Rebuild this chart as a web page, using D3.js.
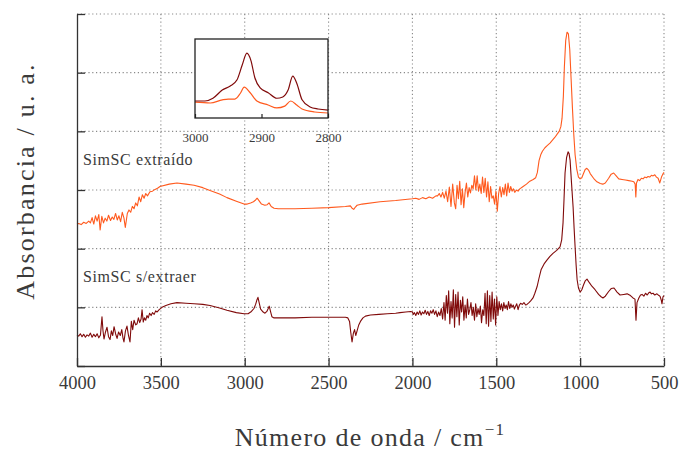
<!DOCTYPE html>
<html>
<head>
<meta charset="utf-8">
<script src="https://cdn.jsdelivr.net/npm/d3@7"></script>
<style>
  body { margin: 0; background: #fff; }
  svg { display: block; }
  text { font-family: 'Liberation Serif', 'Times New Roman', serif; fill: #3a3a3a; }
</style>
</head>
<body>
<div id="chart"></div>
<script>
// tick values
const xTicks = [4000, 3500, 3000, 2500, 2000, 1500, 1000, 500]
const yTicks = [0, 1, 2, 3, 4, 5, 6]
const insetTicks = [3000, 2900, 2800]
const seriesNames = ['SimSC extraído', 'SimSC s/extraer']

// spectra: [wavenumber, absorbance (offset, a.u.)]
const extraido = [
  [4000, 2.42], [3990, 2.43], [3975, 2.41], [3960, 2.45], [3945, 2.43], [3930, 2.47],
  [3920, 2.44], [3910, 2.53], [3900, 2.42], [3890, 2.56], [3880, 2.47], [3870, 2.58],
  [3862, 2.32], [3852, 2.55], [3842, 2.44], [3832, 2.52], [3822, 2.47], [3812, 2.57],
  [3800, 2.48], [3790, 2.54], [3780, 2.50], [3770, 2.60], [3760, 2.49], [3750, 2.56],
  [3740, 2.46], [3730, 2.62], [3720, 2.52], [3712, 2.36], [3700, 2.60], [3690, 2.66],
  [3680, 2.62], [3670, 2.72], [3660, 2.68], [3650, 2.78], [3640, 2.73], [3630, 2.88],
  [3620, 2.80], [3610, 2.92], [3600, 2.86], [3590, 2.94], [3580, 2.90], [3565, 2.97],
  [3550, 2.98], [3535, 3.01], [3520, 3.03], [3505, 3.06], [3450, 3.10], [3404, 3.12],
  [3350, 3.10], [3302, 3.08], [3250, 3.04], [3207, 2.99], [3150, 2.93], [3106, 2.87],
  [3050, 2.81], [3004, 2.76], [2985, 2.76], [2965, 2.78], [2948, 2.80], [2935, 2.83],
  [2926, 2.86], [2915, 2.82], [2900, 2.76], [2880, 2.74], [2866, 2.75], [2855, 2.78],
  [2842, 2.72], [2825, 2.69], [2800, 2.68], [2700, 2.68], [2600, 2.69], [2500, 2.70],
  [2400, 2.72], [2370, 2.73], [2360, 2.69], [2350, 2.67], [2340, 2.71], [2330, 2.74],
  [2300, 2.76], [2193, 2.80], [2100, 2.82], [2000, 2.85], [1980, 2.86], [1960, 2.84],
  [1940, 2.87], [1920, 2.85], [1900, 2.88], [1880, 2.86], [1860, 2.90], [1850, 2.90],
  [1840, 2.94], [1830, 2.88], [1820, 2.96], [1810, 2.86], [1800, 2.98], [1790, 2.80],
  [1780, 3.05], [1770, 2.72], [1760, 3.10], [1750, 2.78], [1742, 2.68], [1734, 3.08],
  [1726, 2.85], [1718, 3.15], [1710, 2.75], [1702, 3.02], [1694, 2.70], [1686, 2.96],
  [1678, 3.12], [1670, 2.88], [1662, 3.04], [1654, 2.95], [1646, 3.08], [1638, 3.02],
  [1630, 3.24], [1622, 3.00], [1614, 3.24], [1606, 2.98], [1598, 3.10], [1590, 2.94],
  [1582, 3.22], [1574, 2.96], [1566, 3.20], [1558, 2.88], [1550, 3.14], [1542, 2.80],
  [1534, 3.06], [1526, 2.86], [1518, 2.90], [1510, 2.76], [1502, 2.98], [1494, 2.64],
  [1486, 2.94], [1478, 3.06], [1470, 2.88], [1462, 3.04], [1454, 2.92], [1446, 3.10],
  [1438, 2.90], [1430, 3.12], [1422, 2.96], [1414, 3.06], [1406, 2.98], [1398, 3.02],
  [1390, 2.96], [1380, 3.00], [1370, 2.98], [1360, 3.02], [1340, 3.06], [1320, 3.10],
  [1300, 3.15], [1280, 3.18], [1265, 3.21], [1255, 3.30], [1245, 3.50], [1235, 3.60],
  [1225, 3.66], [1210, 3.72], [1195, 3.76], [1180, 3.80], [1165, 3.85], [1150, 3.90],
  [1135, 3.96], [1125, 4.00], [1115, 4.08], [1108, 4.22], [1100, 4.60], [1094, 5.10],
  [1086, 5.55], [1078, 5.69], [1070, 5.66], [1062, 5.40], [1054, 4.90], [1046, 4.40],
  [1038, 3.95], [1030, 3.60], [1020, 3.35], [1010, 3.22], [1000, 3.19], [990, 3.21],
  [980, 3.28], [970, 3.35], [960, 3.37], [950, 3.34], [940, 3.28], [920, 3.20],
  [900, 3.14], [880, 3.11], [865, 3.10], [850, 3.12], [830, 3.20], [815, 3.27],
  [800, 3.29], [785, 3.24], [770, 3.19], [750, 3.18], [730, 3.17], [710, 3.16],
  [690, 3.15], [680, 3.14], [672, 3.10], [668, 2.88], [664, 3.12], [655, 3.18],
  [645, 3.16], [635, 3.20], [625, 3.19], [615, 3.22], [605, 3.21], [595, 3.23],
  [585, 3.22], [575, 3.25], [565, 3.24], [555, 3.26], [545, 3.22], [535, 3.20],
  [525, 3.12], [515, 3.22], [505, 3.28], [500, 3.30]
]

const sinExtraer = [
  [4000, 0.53], [3990, 0.51], [3980, 0.55], [3970, 0.50], [3960, 0.54], [3950, 0.49],
  [3940, 0.53], [3930, 0.51], [3920, 0.56], [3910, 0.49], [3900, 0.54], [3890, 0.50],
  [3880, 0.55], [3870, 0.48], [3860, 0.53], [3851, 0.84], [3845, 0.60], [3839, 0.46],
  [3830, 0.58], [3821, 0.66], [3812, 0.50], [3803, 0.45], [3795, 0.60], [3787, 0.52],
  [3779, 0.67], [3770, 0.55], [3761, 0.47], [3752, 0.58], [3742, 0.52], [3733, 0.62],
  [3726, 0.48], [3720, 0.41], [3711, 0.60], [3702, 0.68], [3693, 0.52], [3684, 0.41],
  [3676, 0.76], [3668, 0.62], [3660, 0.78], [3650, 0.70], [3642, 0.72], [3634, 0.82],
  [3626, 0.74], [3618, 0.80], [3612, 0.96], [3605, 0.75], [3598, 0.82], [3590, 0.78],
  [3583, 0.86], [3575, 0.82], [3567, 0.90], [3558, 0.86], [3550, 0.91], [3540, 0.88],
  [3531, 0.94], [3523, 0.92], [3510, 0.96], [3493, 1.00], [3470, 1.03], [3440, 1.06],
  [3404, 1.08], [3350, 1.07], [3302, 1.06], [3250, 1.05], [3207, 1.03], [3150, 0.99],
  [3106, 0.95], [3050, 0.91], [3004, 0.89], [2980, 0.89], [2960, 0.93], [2945, 0.98],
  [2935, 1.05], [2928, 1.12], [2921, 1.17], [2914, 1.08], [2905, 0.97], [2890, 0.92],
  [2879, 0.90], [2868, 0.93], [2860, 0.98], [2854, 1.02], [2847, 0.94], [2838, 0.84],
  [2825, 0.82], [2800, 0.82], [2700, 0.82], [2600, 0.83], [2500, 0.83], [2400, 0.83],
  [2385, 0.82], [2375, 0.76], [2368, 0.58], [2360, 0.41], [2352, 0.56], [2345, 0.62],
  [2338, 0.52], [2330, 0.60], [2320, 0.70], [2310, 0.76], [2295, 0.82], [2280, 0.85],
  [2250, 0.87], [2200, 0.88], [2150, 0.89], [2100, 0.90], [2074, 0.91], [2040, 0.92],
  [2010, 0.93], [2000, 0.92], [1995, 0.88], [1988, 0.91], [1980, 0.86], [1972, 0.92],
  [1964, 0.88], [1956, 0.94], [1948, 0.87], [1940, 0.92], [1932, 0.89], [1924, 0.95],
  [1916, 0.88], [1908, 0.93], [1900, 0.86], [1892, 0.94], [1884, 0.90], [1876, 0.96],
  [1868, 0.88], [1860, 0.94], [1852, 0.84], [1844, 0.92], [1836, 0.86], [1828, 0.98],
  [1820, 0.80], [1812, 1.08], [1805, 0.78], [1798, 1.20], [1791, 0.90], [1784, 1.28],
  [1777, 0.72], [1770, 1.10], [1763, 0.82], [1756, 1.30], [1749, 0.66], [1742, 1.22],
  [1735, 0.84], [1728, 1.26], [1721, 0.70], [1714, 1.12], [1707, 0.92], [1700, 1.18],
  [1693, 0.78], [1686, 1.04], [1679, 0.82], [1672, 1.14], [1665, 0.88], [1658, 0.96],
  [1651, 1.08], [1644, 0.86], [1637, 1.00], [1630, 0.78], [1623, 1.06], [1616, 0.84],
  [1609, 0.98], [1602, 0.88], [1595, 1.02], [1588, 0.74], [1581, 0.96], [1574, 0.86],
  [1567, 1.24], [1560, 0.72], [1553, 1.28], [1546, 0.68], [1539, 1.20], [1532, 0.76],
  [1525, 1.26], [1518, 0.80], [1511, 1.14], [1504, 0.70], [1497, 1.18], [1490, 0.86],
  [1483, 1.10], [1476, 0.96], [1469, 1.06], [1462, 0.94], [1455, 1.08], [1448, 0.98],
  [1441, 1.04], [1434, 0.96], [1427, 1.10], [1420, 0.98], [1413, 1.06], [1406, 1.00],
  [1399, 1.04], [1392, 0.97], [1385, 1.02], [1378, 1.06], [1370, 0.96], [1362, 1.04],
  [1355, 1.07], [1345, 1.05], [1335, 1.08], [1325, 1.04], [1317, 1.05], [1305, 1.08],
  [1295, 1.11], [1281, 1.16], [1270, 1.24], [1257, 1.35], [1245, 1.50], [1233, 1.64],
  [1215, 1.74], [1197, 1.81], [1180, 1.87], [1162, 1.92], [1140, 1.97], [1120, 2.03],
  [1110, 2.15], [1102, 2.44], [1096, 2.85], [1090, 3.29], [1081, 3.55], [1072, 3.65],
  [1066, 3.62], [1060, 3.51], [1051, 3.10], [1042, 2.71], [1036, 2.35], [1030, 2.03],
  [1024, 1.72], [1018, 1.47], [1010, 1.33], [1000, 1.26], [990, 1.30], [980, 1.38],
  [970, 1.45], [959, 1.48], [945, 1.42], [930, 1.36], [911, 1.30], [890, 1.22],
  [875, 1.18], [864, 1.16], [850, 1.19], [830, 1.27], [815, 1.32], [798, 1.33],
  [780, 1.26], [762, 1.21], [740, 1.22], [720, 1.23], [700, 1.20], [685, 1.16],
  [673, 1.14], [667, 0.78], [661, 1.08], [650, 1.16], [640, 1.21], [631, 1.22],
  [620, 1.19], [610, 1.24], [600, 1.21], [590, 1.25], [583, 1.26], [575, 1.23],
  [565, 1.24], [555, 1.21], [542, 1.23], [530, 1.20], [524, 1.19], [516, 1.12],
  [512, 1.06], [506, 1.18], [500, 1.20]
]

// C-H stretching region (inset, own arbitrary scale)
const insetExtraido = [
  [3000, 0.20], [2977, 0.19], [2959, 0.23], [2950, 0.24], [2940, 0.24], [2932, 0.31],
  [2926, 0.39], [2917, 0.32], [2907, 0.215], [2890, 0.165], [2877, 0.127], [2865, 0.15],
  [2856, 0.215], [2847, 0.165], [2839, 0.114], [2820, 0.076], [2800, 0.063]
]
const insetSinExtraer = [
  [3000, 0.215], [2985, 0.215], [2973, 0.25], [2959, 0.354], [2947, 0.405], [2937, 0.48],
  [2929, 0.67], [2922, 0.82], [2916, 0.73], [2910, 0.51], [2902, 0.38], [2890, 0.32],
  [2877, 0.25], [2868, 0.266], [2860, 0.354], [2853, 0.53], [2847, 0.44], [2839, 0.23],
  [2827, 0.14], [2815, 0.114], [2800, 0.10]
]

const colors = ['#ff5a1e', '#800a0a']

const width = 681
const height = 453
const margins = { left: 77, right: 17, top: 14, bottom: 87 }
const plotWidth = width - margins.left - margins.right
const plotHeight = height - margins.top - margins.bottom

const svg = d3.select('#chart').append('svg')
  .attr('width', width)
  .attr('height', height)

const plot = svg.append('g')
  .attr('transform', `translate(${margins.left}, ${margins.top})`)

// scales
const x = d3.scaleLinear().domain([4000, 500]).range([0, plotWidth])
const y = d3.scaleLinear().domain([0, 6]).range([plotHeight, 0])

// dotted grid
const grid = plot.append('g')
  .attr('stroke', '#8a8a8a')
  .attr('stroke-width', 1.1)
  .attr('stroke-dasharray', '1.2,2.6')

grid.selectAll('line.v')
  .data(xTicks.filter(d => d !== 4000))
  .enter()
  .append('line')
  .attr('class', 'v')
  .attr('x1', d => x(d)).attr('x2', d => x(d))
  .attr('y1', 0).attr('y2', plotHeight)

grid.selectAll('line.h')
  .data(yTicks.filter(d => d !== 0))
  .enter()
  .append('line')
  .attr('class', 'h')
  .attr('x1', 0).attr('x2', plotWidth)
  .attr('y1', d => y(d)).attr('y2', d => y(d))

// spectra
const line = d3.line().x(d => x(d[0])).y(d => y(d[1]))

plot.selectAll('path.spectrum')
  .data([extraido, sinExtraer])
  .enter()
  .append('path')
  .attr('class', 'spectrum')
  .attr('fill', 'none')
  .attr('stroke', (d, i) => colors[i])
  .attr('stroke-width', 1.1)
  .attr('stroke-linejoin', 'round')
  .attr('d', line)

// axes, ticks pointing inward
const xAxis = plot.append('g')
  .attr('transform', `translate(0, ${plotHeight})`)
  .call(d3.axisBottom(x).tickValues(xTicks).tickFormat(d3.format('d'))
    .tickSizeInner(-8).tickSizeOuter(0).tickPadding(10))

const yAxis = plot.append('g')
  .call(d3.axisLeft(y).tickValues(yTicks).tickSizeInner(-8).tickSizeOuter(0).tickFormat(''))

;[xAxis, yAxis].forEach(a => {
  a.attr('font-family', null)
  a.selectAll('path, line').attr('stroke', '#333').attr('stroke-width', 1.3)
})
xAxis.selectAll('text')
  .attr('fill', '#3a3a3a')
  .style('font-family', "'Liberation Serif', serif")
  .style('font-size', '18.5px')

// series labels
plot.selectAll('text.label')
  .data(seriesNames)
  .enter()
  .append('text')
  .attr('class', 'label')
  .attr('x', 6)
  .attr('y', (d, i) => y(i === 0 ? 3.42 : 1.43))
  .attr('font-size', '16px')
  .attr('letter-spacing', '0.6px')
  .attr('fill', '#222')
  .text(d => d)

// inset
const inset = { left: 118, top: 25, width: 133, height: 79 }
const ix = d3.scaleLinear().domain([3000, 2800]).range([0, inset.width])
const iy = d3.scaleLinear().domain([0, 1]).range([inset.height, 0])

const ig = plot.append('g')
  .attr('transform', `translate(${inset.left}, ${inset.top})`)

ig.append('rect')
  .attr('width', inset.width)
  .attr('height', inset.height)
  .attr('fill', '#fff')

const iline = d3.line().curve(d3.curveMonotoneX).x(d => ix(d[0])).y(d => iy(d[1]))

ig.selectAll('path.inset')
  .data([insetExtraido, insetSinExtraer])
  .enter()
  .append('path')
  .attr('class', 'inset')
  .attr('fill', 'none')
  .attr('stroke', (d, i) => colors[i])
  .attr('stroke-width', 1.2)
  .attr('d', iline)

const iAxis = ig.append('g')
  .attr('transform', `translate(0, ${inset.height})`)
  .call(d3.axisBottom(ix).tickValues(insetTicks).tickFormat(d3.format('d'))
    .tickSizeInner(-4).tickSizeOuter(0).tickPadding(15))
iAxis.attr('font-family', null)
iAxis.select('.domain').remove()
iAxis.selectAll('line').attr('stroke', '#222').attr('stroke-width', 1.2)
iAxis.selectAll('text')
  .attr('fill', '#3a3a3a')
  .style('font-family', "'Liberation Serif', serif")
  .style('font-size', '13px')

ig.append('rect')
  .attr('width', inset.width)
  .attr('height', inset.height)
  .attr('fill', 'none')
  .attr('stroke', '#222')
  .attr('stroke-width', 1.3)

// axis titles
const xTitle = svg.append('text')
  .attr('x', 370)
  .attr('y', 446)
  .attr('text-anchor', 'middle')
  .attr('font-size', '26px')
  .attr('letter-spacing', '1.3px')
  .attr('fill', '#444')
xTitle.append('tspan').text('Número de onda / cm')
xTitle.append('tspan').attr('font-size', '17px').attr('dy', -11).text('−1')

svg.append('text')
  .attr('transform', `translate(34, 181) rotate(-90)`)
  .attr('text-anchor', 'middle')
  .attr('font-size', '26px')
  .attr('letter-spacing', '2.2px')
  .attr('fill', '#444')
  .text('Absorbancia / u. a.')
</script>
</body>
</html>
